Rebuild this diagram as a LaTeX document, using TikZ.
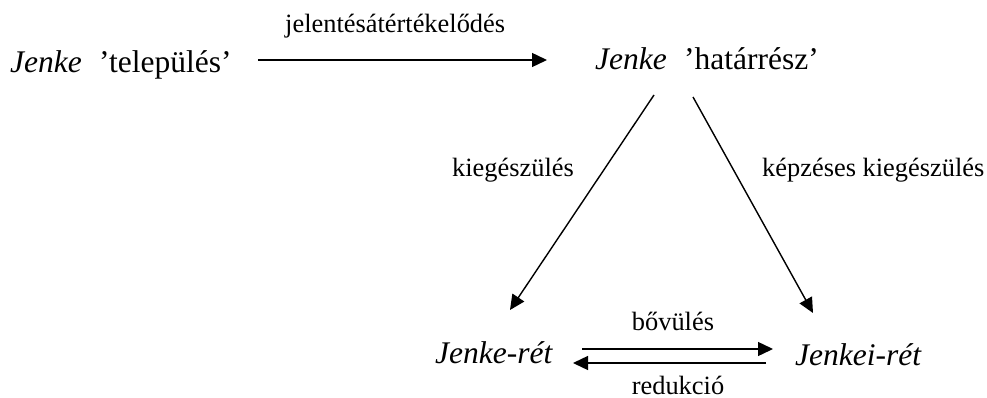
\documentclass[tikz,border=0pt]{standalone}
\usepackage{fontspec}
\setmainfont{Liberation Serif}
\usetikzlibrary{arrows.meta}
\tikzset{
  term/.style={inner sep=0pt, font=\fontsize{31.5}{38}\selectfont},
  lbl/.style={inner sep=0pt, font=\fontsize{26.4}{32}\selectfont},
  arr/.style={draw=black, line width=1.4pt, -{Triangle[length=15pt,width=14pt]}},
}
\begin{document}
\begin{tikzpicture}[x=1pt,y=-1pt]
\useasboundingbox (0,0) rectangle (987,398);
\node[term, anchor=base west] (A) at (10,73) {\textit{Jenke}\hspace{0.55em}’település’};
\node[term, anchor=base west] (B) at (595,70) {\textit{Jenke}\hspace{0.55em}’határrész’};
\node[term, anchor=base west] (C) at (435,363) {\textit{Jenke-rét}};
\node[term, anchor=base west] (D) at (795,365) {\textit{Jenkei-rét}};
\node[lbl, anchor=base west] (L1) at (285,33) {jelentésátértékelődés};
\node[lbl, anchor=base west] (L2) at (452,177) {kiegészülés};
\node[lbl, anchor=base west] (L3) at (762,177) {képzéses kiegészülés};
\node[lbl, anchor=base] (L4) at (673,330) {bővülés};
\node[lbl, anchor=base] (L5) at (678,394) {redukció};
\draw[arr] ([xshift=26pt,yshift=13pt]A.base east) -- ([xshift=-48pt,yshift=10pt]B.base west);
\draw[arr] ([xshift=59pt,yshift=-25pt]B.base west) -- ([xshift=75pt,yshift=53pt]C.base west);
\draw[arr] ([xshift=98pt,yshift=-27pt]B.base west) -- ([xshift=18pt,yshift=52pt]D.base west);
\draw[arr] ([xshift=147pt,yshift=14pt]C.base west) -- ([xshift=-22pt,yshift=16pt]D.base west);
\draw[arr] ([xshift=-29pt,yshift=2pt]D.base west) -- ([xshift=138pt,yshift=0pt]C.base west);
\end{tikzpicture}
\end{document}
